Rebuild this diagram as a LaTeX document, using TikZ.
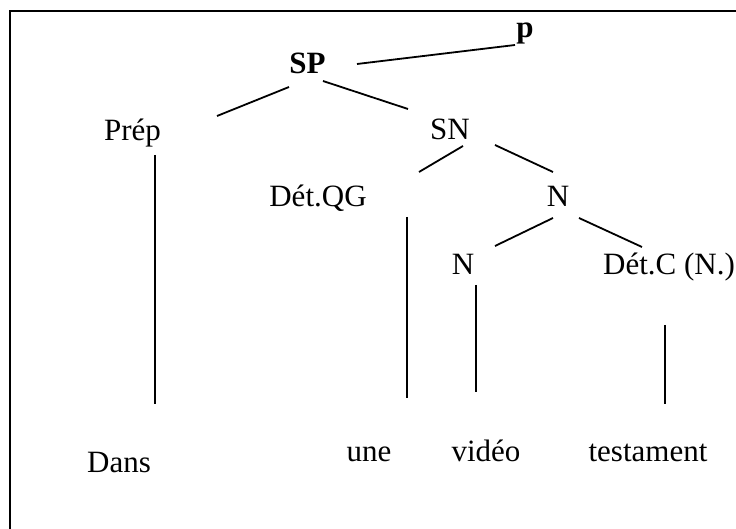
\documentclass[tikz,border=0pt]{standalone}
\usepackage{fontspec}
\setmainfont{Liberation Serif}
\begin{document}
\begin{tikzpicture}[x=0.5pt,y=-0.5pt,
  lbl/.style={inner sep=0pt,anchor=base,font=\fontsize{15.5}{18}\selectfont},
  blbl/.style={lbl,font=\fontsize{15.5}{18}\selectfont\bfseries},
  branch/.style={line width=0.9pt},
  stem/.style={line width=0.75pt},
  frame/.style={line width=1.1pt}]
\useasboundingbox (0,0) rectangle (736,529);
% frame (only left and top edges are visible)
\draw[frame] (10,529) -- (10,11) -- (736,11);
% nodes
\node[blbl] (p) at (525,38) {p};
\node[blbl] (sp) at (307.5,74) {SP};
\node[lbl] (prep) at (132.5,141) {Prép};
\node[lbl] (sn) at (450,140) {SN};
\node[lbl] (dqg) at (318,207) {Dét.QG};
\node[lbl] (n1) at (558,207) {N};
\node[lbl] (n2) at (463,275) {N};
\node[lbl] (dc) at (669,275) {Dét.C (N.)};
\node[lbl] (dans) at (119,473) {Dans};
\node[lbl] (une) at (369,462) {une};
\node[lbl] (video) at (486,462) {vidéo};
\node[lbl] (test) at (648,462) {testament};
% connectors
\draw[branch] ([shift={(49.5,-10)}]sp.base) -- ([shift={(-10,7)}]p.base);
\draw[branch] ([shift={(-18.5,13)}]sp.base) -- ([shift={(84.5,-25)}]prep.base);
\draw[branch] ([shift={(15.5,7)}]sp.base) -- ([shift={(-42,-31)}]sn.base);
\draw[stem] ([shift={(22.5,14)}]prep.base) -- ([shift={(36,-69)}]dans.base);
\draw[branch] ([shift={(13,6)}]sn.base) -- ([shift={(101,-35)}]dqg.base);
\draw[branch] ([shift={(45,5)}]sn.base) -- ([shift={(-5,-35)}]n1.base);
\draw[stem] ([shift={(89,10)}]dqg.base) -- ([shift={(38,-64)}]une.base);
\draw[branch] ([shift={(-5,11)}]n1.base) -- ([shift={(32,-29)}]n2.base);
\draw[branch] ([shift={(21,11)}]n1.base) -- ([shift={(-27,-28)}]dc.base);
\draw[stem] ([shift={(13,10)}]n2.base) -- ([shift={(-10,-70)}]video.base);
\draw[stem] ([shift={(-4,50)}]dc.base) -- ([shift={(17,-58)}]test.base);
\end{tikzpicture}
\end{document}
